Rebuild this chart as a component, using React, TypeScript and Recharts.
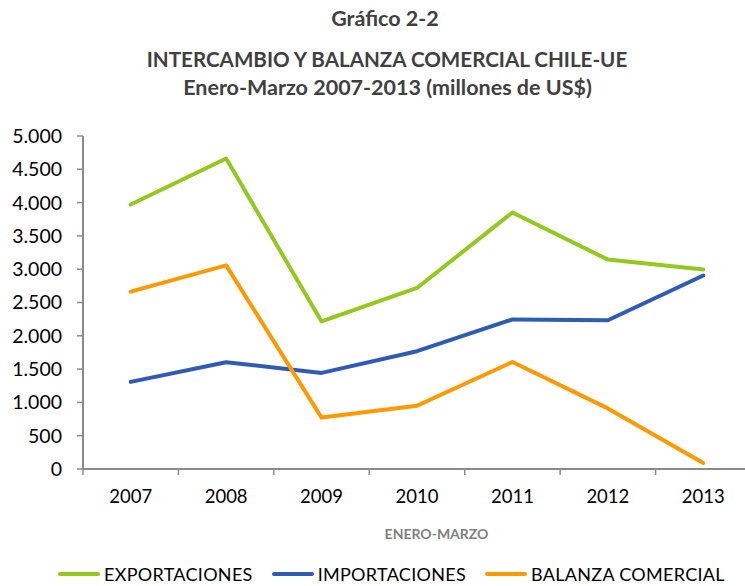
import React from 'react';
import { LineChart, Line, XAxis, YAxis } from 'recharts';

const years = ['2007', '2008', '2009', '2010', '2011', '2012', '2013'];
const exportaciones = [3971, 4662, 2215, 2718, 3852, 3144, 2995];
const importaciones = [1308, 1604, 1443, 1769, 2246, 2234, 2905];
const balanza = [2663, 3058, 772, 949, 1606, 910, 90];
const yTicks = [0, 500, 1000, 1500, 2000, 2500, 3000, 3500, 4000, 4500, 5000];
const seriesKeys = ['exp', 'imp', 'bal'];
const seriesNames = ['EXPORTACIONES', 'IMPORTACIONES', 'BALANZA COMERCIAL'];
const seriesColors = ['#92C91C', '#2F5BB7', '#FF9900'];
const titleLines = ['Gráfico 2-2', 'INTERCAMBIO Y BALANZA COMERCIAL CHILE-UE', 'Enero-Marzo 2007-2013 (millones de US$)'];
const xAxisTitle = 'ENERO-MARZO';

const data = years.map((y, i) => ({ year: y, exp: exportaciones[i], imp: importaciones[i], bal: balanza[i] }));

const FONT = 'Lato, "Open Sans", sans-serif';
const AXIS_COLOR = '#8a8a8a';

const fmt = (v: number) => v.toLocaleString('de-DE');

const XTick = (props: any) => {
  const { x, y, payload } = props;
  const off = payload && payload.offset ? payload.offset : 0;
  return (
    <g>
      <line x1={x - off} x2={x - off} y1={y} y2={y + 6} stroke={AXIS_COLOR} strokeWidth={1.5} />
      <text x={x} y={y + 34} textAnchor="middle" fontFamily={FONT} fontSize={18.5} fill="#000">
        {payload.value}
      </text>
    </g>
  );
};

export default function App() {
  return (
    <div style={{ position: 'absolute', left: 0, top: 0, width: 745, height: 586, overflow: 'hidden', background: '#fff', fontFamily: FONT }}>
      <div style={{ position: 'absolute', left: 0, width: 770, top: 5, textAlign: 'center', fontWeight: 700, fontSize: 21.5, color: '#404040', lineHeight: '26px' }}>
        {titleLines[0]}
      </div>
      <div style={{ position: 'absolute', left: 0, width: 774, top: 45, textAlign: 'center', fontWeight: 700, fontSize: 20.6, color: '#404040', lineHeight: '28px' }}>
        {titleLines[1]}
      </div>
      <div style={{ position: 'absolute', left: 0, width: 775, top: 73, textAlign: 'center', fontWeight: 700, fontSize: 21.5, color: '#404040', lineHeight: '28px' }}>
        {titleLines[2]}
      </div>
      <div style={{ position: 'absolute', left: 0, width: 873, top: 526, textAlign: 'center', fontWeight: 700, fontSize: 14, color: '#7f7f7f', lineHeight: '16px' }}>
        {xAxisTitle}
      </div>
      <div style={{ position: 'absolute', left: 58, top: 562, height: 24, display: 'flex', alignItems: 'center', gap: 19 }}>
        {seriesNames.map((n, i) => (
          <div key={n} style={{ display: 'flex', alignItems: 'center' }}>
            <div style={{ width: 42, height: 4, borderRadius: 2, background: seriesColors[i], marginRight: 4 }} />
            <span style={{ fontSize: 18, letterSpacing: 0.3, color: '#000', whiteSpace: 'nowrap' }}>{n}</span>
          </div>
        ))}
      </div>
      <div style={{ position: 'absolute', left: 0, top: 0 }}>
        <LineChart width={760} height={586} data={data} margin={{ top: 136, right: 9, bottom: 87, left: 0 }}>
          <XAxis
            dataKey="year"
            scale="band"
            height={30}
            tickSize={0}
            tickMargin={0}
            tickLine={false}
            axisLine={{ stroke: AXIS_COLOR, strokeWidth: 2 }}
            tick={<XTick />}
            interval={0}
          />
          <YAxis
            width={83}
            domain={[0, 5000]}
            ticks={yTicks}
            tickFormatter={fmt}
            tickSize={6}
            tickMargin={15}
            axisLine={{ stroke: AXIS_COLOR, strokeWidth: 2 }}
            tickLine={{ stroke: AXIS_COLOR, strokeWidth: 1.5 }}
            tick={{ fontFamily: FONT, fontSize: 19.5, fill: '#000' }}
            interval={0}
          />
          {seriesKeys.map((k, i) => (
            <Line
              key={k}
              type="linear"
              dataKey={k}
              name={seriesNames[i]}
              stroke={seriesColors[i]}
              strokeWidth={4}
              strokeLinecap="round"
              strokeLinejoin="round"
              dot={false}
              activeDot={false}
              isAnimationActive={false}
            />
          ))}
        </LineChart>
      </div>
    </div>
  );
}
